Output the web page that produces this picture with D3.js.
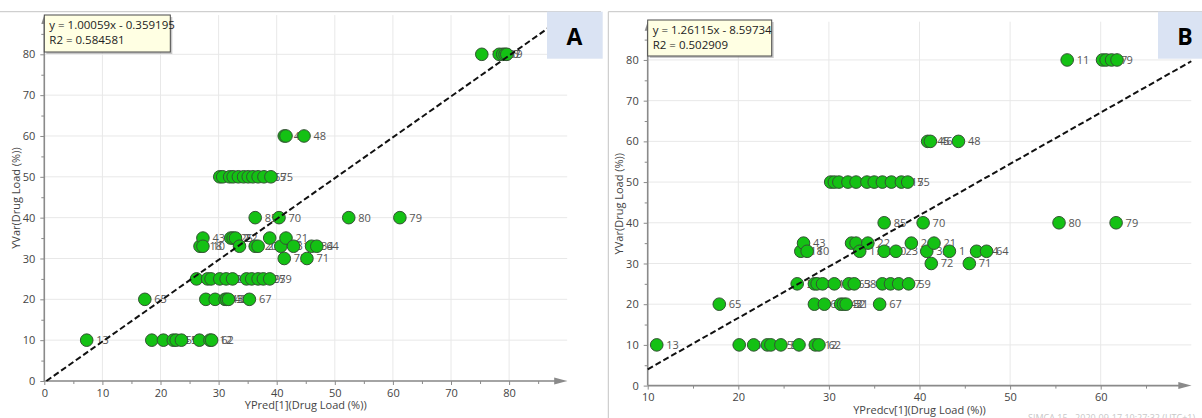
<!DOCTYPE html>
<html>
<head>
<meta charset="utf-8">
<script src="https://cdn.jsdelivr.net/npm/d3@7"></script>
<style>
  html, body { margin: 0; padding: 0; background: #fff; }
  svg { display: block; }
  text { font-family: "Open Sans", "Noto Sans", "DejaVu Sans", sans-serif; }
</style>
</head>
<body>
<svg id="chart" width="1202" height="418"></svg>
<script>
// ---- Data: observations grouped by measured drug load (YVar) ----
const obsId = [
  11, 8, 6, 7, 9,
  45, 46, 48,
  57, 40, 30, 41, 38, 49, 47, 37, 86, 15, 75,
  85, 70, 80, 79,
  43, 25, 2, 22, 24, 21,
  18, 10, 17, 20, 23, 33, 1, 34, 64,
  72, 71,
  36, 60, 66, 61, 26, 63, 58, 28, 29, 27, 59,
  65, 16, 44, 42, 32, 31, 67,
  13, 35, 5, 4, 55, 53, 3, 12, 62
];
const yVar = [
  80, 80, 80, 80, 80,
  60, 60, 60,
  50, 50, 50, 50, 50, 50, 50, 50, 50, 50, 50,
  40, 40, 40, 40,
  35, 35, 35, 35, 35, 35,
  33, 33, 33, 33, 33, 33, 33, 33, 33,
  30, 30,
  25, 25, 25, 25, 25, 25, 25, 25, 25, 25, 25,
  20, 20, 20, 20, 20, 20, 20,
  10, 10, 10, 10, 10, 10, 10, 10, 10
];
// Fitted predictions, PLS component 1
const yPred = [
  75.3, 78.3, 78.9, 79.3, 79.6,
  41.3, 41.6, 44.7,
  30.2, 30.7, 31.9, 32.5, 33.4, 34.3, 35.1, 35.9, 36.8, 37.8, 39.0,
  36.3, 40.4, 52.4, 61.2,
  27.3, 32.1, 32.5, 32.9, 38.8, 41.6,
  26.8, 27.3, 33.6, 36.3, 36.8, 40.7, 42.9, 46.0, 46.9,
  41.3, 45.2,
  26.2, 28.1, 28.7, 30.2, 31.3, 32.4, 34.8, 35.7, 36.8, 37.7, 38.8,
  17.3, 27.8, 29.4, 31.1, 31.4, 31.7, 35.3,
  7.3, 18.5, 20.5, 22.2, 22.7, 23.6, 26.7, 28.5, 28.8
];
// Cross-validated predictions, PLS component 1
const yPredCv = [
  56.3, 60.2, 60.6, 61.2, 61.8,
  40.9, 41.2, 44.3,
  30.2, 30.6, 31.1, 32.1, 33.0, 34.2, 35.0, 35.9, 36.9, 38.0, 38.7,
  36.1, 40.4, 55.4, 61.7,
  27.2, 32.5, 33.0, 34.3, 39.1, 41.6,
  26.9, 27.6, 33.4, 36.1, 37.4, 40.8, 43.3, 46.3, 47.4,
  41.3, 45.5,
  26.5, 28.4, 28.7, 29.3, 30.6, 32.2, 32.8, 35.9, 36.8, 37.7, 38.8,
  17.9, 28.4, 29.5, 31.3, 31.6, 31.9, 35.6,
  11.0, 20.1, 21.7, 23.2, 23.6, 24.7, 26.7, 28.5, 28.9
];

// Regression fits of YVar against each prediction
const fitA = { slope: 1.00059, intercept: -0.359195, r2: "0.584581", text: "y = 1.00059x - 0.359195" };
const fitB = { slope: 1.26115, intercept: -8.59734, r2: "0.502909", text: "y = 1.26115x - 8.59734" };

const yTicks = [0, 10, 20, 30, 40, 50, 60, 70, 80];
const xTicksA = [0, 10, 20, 30, 40, 50, 60, 70, 80];
const xTicksB = [10, 20, 30, 40, 50, 60];

const xTitleA = "YPred[1](Drug Load (%))";
const xTitleB = "YPredcv[1](Drug Load (%))";
const yTitle = "YVar(Drug Load (%))";

// ---- Layout ----
const svg = d3.select("#chart");
const AXIS = "#8a8a8a";
const GRID = "#e8e8e8";

const panels = [
  {
    key: "A", xs: yPred, fit: fitA, xTicks: xTicksA, xTitle: xTitleA,
    xDomain: [0, 90], xRange: [44.3, 567.2],
    yDomain: [0, 89.6], yRange: [381, 15.1],
    box: { x: 44.3, y: 15, w: 126, h: 37 },
    tag: { x: 547, y: 11.7, w: 55.7, h: 47, tx: 574.5 },
    yTitleX: 15
  },
  {
    key: "B", xs: yPredCv, fit: fitB, xTicks: xTicksB, xTitle: xTitleB,
    xDomain: [10, 70], xRange: [647.7, 1191.3],
    yDomain: [0, 89.4], yRange: [385.6, 21.7],
    box: { x: 647.7, y: 20, w: 124, h: 36 },
    tag: { x: 1158, y: 11.7, w: 44, h: 47, tx: 1185 },
    yTitleX: 618
  }
];

// Panel frames
svg.append("line").attr("x1", 0).attr("x2", 601).attr("y1", 11.7).attr("y2", 11.7)
  .attr("stroke", "#c4c4c4").attr("stroke-width", 1);
svg.append("line").attr("x1", 608.3).attr("x2", 1202).attr("y1", 11.7).attr("y2", 11.7)
  .attr("stroke", "#c4c4c4").attr("stroke-width", 1);
svg.append("line").attr("x1", 608.3).attr("x2", 608.3).attr("y1", 11.7).attr("y2", 418)
  .attr("stroke", "#c4c4c4").attr("stroke-width", 1);

panels.forEach(p => {
  const x = d3.scaleLinear().domain(p.xDomain).range(p.xRange);
  const y = d3.scaleLinear().domain(p.yDomain).range(p.yRange);
  const g = svg.append("g");
  const [x0, x1] = p.xRange;
  const [y0, y1] = p.yRange;

  // Grid
  g.append("g").selectAll("line").data(p.xTicks).join("line")
    .attr("x1", d => x(d)).attr("x2", d => x(d)).attr("y1", y0).attr("y2", y1)
    .attr("stroke", GRID).attr("stroke-width", 1);
  g.append("g").selectAll("line").data(yTicks).join("line")
    .attr("x1", x0).attr("x2", x1).attr("y1", d => y(d)).attr("y2", d => y(d))
    .attr("stroke", GRID).attr("stroke-width", 1);

  // Minor ticks every 5 units
  const minorX = d3.range(p.xDomain[0], p.xDomain[1] - 1, 5);
  const minorY = d3.range(0, p.yDomain[1] - 1, 5);

  const xAxis = g.append("g").attr("transform", `translate(0,${y0})`)
    .call(d3.axisBottom(x).tickValues(p.xTicks).tickSize(4).tickPadding(4).tickFormat(d3.format("d")));
  g.append("g").attr("transform", `translate(0,${y0})`)
    .call(d3.axisBottom(x).tickValues(minorX.filter(v => v % 10 !== 0)).tickSize(3).tickFormat(""))
    .call(a => a.select(".domain").remove());
  const yAxis = g.append("g").attr("transform", `translate(${x0},0)`)
    .call(d3.axisLeft(y).tickValues(yTicks).tickSize(4).tickPadding(5).tickFormat(d3.format("d")));
  g.append("g").attr("transform", `translate(${x0},0)`)
    .call(d3.axisLeft(y).tickValues(minorY.filter(v => v % 10 !== 0)).tickSize(3).tickFormat(""))
    .call(a => a.select(".domain").remove());

  [xAxis, yAxis].forEach(a => {
    a.select(".domain").remove();
    a.selectAll(".tick text").attr("fill", "#444").attr("font-size", 11);
  });
  g.selectAll(".tick line").attr("stroke", AXIS).attr("stroke-width", 1);

  // Axis lines with arrow heads
  g.append("line").attr("x1", x0).attr("x2", x1 - 10).attr("y1", y0).attr("y2", y0)
    .attr("stroke", AXIS).attr("stroke-width", 1.6);
  g.append("path").attr("d", `M${x1},${y0} L${x1 - 13},${y0 - 3.5} L${x1 - 13},${y0 + 3.5} Z`)
    .attr("fill", AXIS);
  g.append("line").attr("x1", x0).attr("x2", x0).attr("y1", y0).attr("y2", y1 + 7)
    .attr("stroke", AXIS).attr("stroke-width", 1.6);
  g.append("path").attr("d", `M${x0},${y1} L${x0 - 3},${y1 + 9} L${x0 + 3},${y1 + 9} Z`)
    .attr("fill", AXIS);

  // Axis titles
  g.append("text").attr("x", (x0 + x1) / 2).attr("y", y0 + 28)
    .attr("text-anchor", "middle").attr("font-size", 11).attr("fill", "#444")
    .text(p.xTitle);
  g.append("text").attr("transform", `translate(${p.yTitleX},${(y0 + y1) / 2}) rotate(-90)`)
    .attr("text-anchor", "middle").attr("dominant-baseline", "central")
    .attr("font-size", 11).attr("fill", "#444").text(yTitle);

  // Observations: circle then its number, left to right so later circles overlap earlier labels
  const pts = obsId.map((id, i) => ({ id, xv: p.xs[i], yv: yVar[i] }))
    .sort((a, b) => a.xv - b.xv);
  const pg = g.append("g").selectAll("g").data(pts).join("g")
    .attr("transform", d => `translate(${x(d.xv)},${y(d.yv)})`);
  pg.append("circle").attr("r", 6.3)
    .attr("fill", "#14c114").attr("stroke", "#345234").attr("stroke-width", 1);
  pg.append("text").attr("x", 9.5).attr("dy", "0.36em")
    .attr("font-size", 11).attr("fill", "#555").text(d => d.id);

  // Regression line
  const xa = Math.max(p.xDomain[0], -p.fit.intercept / p.fit.slope);
  const xb = p.xDomain[1];
  g.append("line")
    .attr("x1", x(xa)).attr("y1", y(p.fit.slope * xa + p.fit.intercept))
    .attr("x2", x(xb)).attr("y2", y(p.fit.slope * xb + p.fit.intercept))
    .attr("stroke", "#111").attr("stroke-width", 2).attr("stroke-dasharray", "6,3");

  // Fit summary box
  const b = p.box;
  g.append("rect").attr("x", b.x + 2).attr("y", b.y + 2).attr("width", b.w).attr("height", b.h)
    .attr("fill", "#9a9a9a").attr("opacity", 0.55);
  g.append("rect").attr("x", b.x).attr("y", b.y).attr("width", b.w).attr("height", b.h)
    .attr("fill", "#ffffe3").attr("stroke", "#4a4a4a").attr("stroke-width", 1);
  g.append("text").attr("x", b.x + 5).attr("y", b.y + 13.5)
    .attr("font-size", 11.5).attr("fill", "#222").text(p.fit.text);
  g.append("text").attr("x", b.x + 5).attr("y", b.y + 29)
    .attr("font-size", 11.5).attr("fill", "#222").text("R2 = " + p.fit.r2);

  // Panel tag
  const t = p.tag;
  g.append("rect").attr("x", t.x).attr("y", t.y).attr("width", t.w).attr("height", t.h)
    .attr("fill", "#dae3f3");
  g.append("text").attr("x", t.tx).attr("y", t.y + 33)
    .attr("text-anchor", "middle").attr("font-size", 23).attr("font-weight", "bold")
    .attr("font-family", "'Liberation Sans', Arial, sans-serif")
    .attr("fill", "#000").text(p.key);
});

// Faint footer stamp at the lower right
svg.append("text").attr("x", 1028).attr("y", 421).attr("font-size", 9).attr("fill", "#c8c8c8")
  .text("SIMCA 15 - 2020-09-17 10:27:32 (UTC+1)");
</script>
</body>
</html>
